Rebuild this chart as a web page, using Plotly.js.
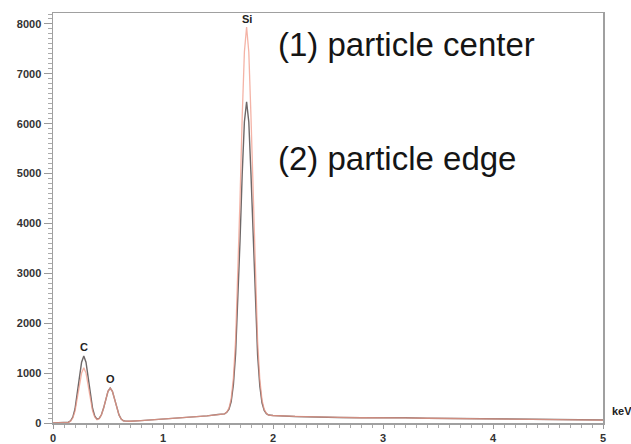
<!DOCTYPE html>
<html>
<head>
<meta charset="utf-8">
<script src="https://cdn.plot.ly/plotly-3.0.1.min.js"></script>
<style>html,body{margin:0;padding:0;background:#fff;}#chart{width:631px;height:444px;}</style>
</head>
<body>
<div id="chart"></div>
<script>
// Energy axis (keV)
const energy = [0, 0.10, 0.14, 0.16, 0.18, 0.20, 0.22, 0.24, 0.26, 0.28, 0.30, 0.32, 0.34, 0.36, 0.38, 0.40, 0.42, 0.44, 0.46, 0.48, 0.50, 0.52, 0.54, 0.56, 0.58, 0.60, 0.62, 0.64, 0.66, 0.70, 0.80, 0.90, 1.00, 1.10, 1.20, 1.30, 1.40, 1.50, 1.56, 1.58, 1.60, 1.62, 1.64, 1.66, 1.68, 1.70, 1.72, 1.74, 1.76, 1.78, 1.80, 1.82, 1.84, 1.86, 1.88, 1.90, 1.92, 1.94, 1.96, 2.00, 2.20, 2.40, 2.60, 2.80, 3.00, 3.20, 3.40, 3.60, 3.80, 4.00, 4.20, 4.40, 4.60, 4.80, 5.00];
// (2) particle edge counts (gray)
const edgeCounts = [0, 5, 16, 43, 119, 281, 556, 908, 1219, 1345, 1219, 913, 564, 291, 136, 77, 92, 165, 299, 478, 636, 700, 636, 478, 300, 162, 80, 45, 38, 36, 48, 62, 78, 92, 108, 124, 142, 170, 182, 214, 276, 430, 766, 1382, 2357, 3639, 4990, 6040, 6440, 6035, 4980, 3625, 2339, 1362, 744, 406, 251, 187, 160, 150, 130, 115, 110, 104, 108, 104, 96, 90, 85, 80, 76, 72, 68, 64, 60];
// (1) particle center counts (salmon)
const centerCounts = [0, 5, 14, 36, 99, 232, 457, 746, 1002, 1105, 1002, 749, 460, 239, 115, 65, 87, 162, 297, 476, 634, 698, 634, 476, 298, 160, 79, 44, 37, 35, 47, 61, 77, 91, 107, 123, 141, 169, 182, 221, 297, 488, 905, 1668, 2877, 4467, 6142, 7444, 7940, 7439, 6132, 4453, 2859, 1648, 883, 464, 272, 194, 158, 150, 131, 116, 111, 105, 109, 103, 95, 89, 84, 79, 75, 71, 67, 63, 59];
// Peak labels
const peakNames = ["C", "O", "Si"];
const peakEnergy = [0.28, 0.52, 1.76];
const peakLabelY = [1520, 880, 8090];
const seriesNames = ["(1) particle center", "(2) particle edge"];
const xTicks = [0, 1, 2, 3, 4, 5];
const yTicks = [0, 1000, 2000, 3000, 4000, 5000, 6000, 7000, 8000];

const traces = [
  {x: energy, y: edgeCounts, type: 'scatter', mode: 'lines', name: seriesNames[1],
   line: {color: '#6e6868', width: 1.4}, hoverinfo: 'x+y'},
  {x: energy, y: centerCounts, type: 'scatter', mode: 'lines', name: seriesNames[0],
   line: {color: '#f09a88', width: 1.3}, opacity: 0.75, hoverinfo: 'x+y'}
];

const annotations = peakNames.map((n, i) => ({
  x: peakEnergy[i], y: peakLabelY[i], xref: 'x', yref: 'y', text: n, showarrow: false,
  font: {family: 'Liberation Sans, Arial, sans-serif', size: 11, color: '#222', weight: 'bold'},
  xanchor: 'center', yanchor: 'middle'
}));
annotations.push({x: 0.405, y: 0.922, xref: 'paper', yref: 'paper', text: seriesNames[0], showarrow: false,
  xanchor: 'left', yanchor: 'middle', font: {family: 'Liberation Sans, Arial, sans-serif', size: 33, color: '#151515'}});
annotations.push({x: 0.405, y: 0.646, xref: 'paper', yref: 'paper', text: seriesNames[1], showarrow: false,
  xanchor: 'left', yanchor: 'middle', font: {family: 'Liberation Sans, Arial, sans-serif', size: 33, color: '#151515'}});
annotations.push({x: 1.012, y: 0.03, xref: 'paper', yref: 'paper', text: 'keV', showarrow: false,
  xanchor: 'left', yanchor: 'middle', font: {family: 'Liberation Sans, Arial, sans-serif', size: 11, color: '#222', weight: 'bold'}});

const tickFont = {family: 'Liberation Sans, Arial, sans-serif', size: 11, color: '#333', weight: 'bold'};

const layout = {
  width: 631, height: 444,
  margin: {l: 53, r: 28, t: 13, b: 21, pad: 0},
  paper_bgcolor: '#fff', plot_bgcolor: '#fff',
  showlegend: false,
  xaxis: {range: [0, 5], tickvals: xTicks, ticktext: xTicks.map(String), ticks: 'outside', ticklen: 4,
    tickcolor: '#999', tickwidth: 1, showline: true, linecolor: '#a0a0a0', linewidth: 1.5, mirror: true,
    showgrid: false, zeroline: false, tickfont: tickFont,
    minor: {dtick: 0.1, ticks: 'outside', ticklen: 3, tickcolor: '#aaa', showgrid: false}},
  yaxis: {range: [0, 8220], tickvals: yTicks, ticktext: yTicks.map(String), ticks: 'outside', ticklen: 8,
    tickcolor: '#999', tickwidth: 1, showline: true, linecolor: '#a0a0a0', linewidth: 1.5, mirror: true,
    showgrid: false, zeroline: false, tickfont: tickFont,
    minor: {dtick: 100, ticks: 'outside', ticklen: 4, tickcolor: '#aaa', showgrid: false}},
  annotations: annotations
};

Plotly.newPlot('chart', traces, layout, {displayModeBar: false, staticPlot: true});
</script>
</body>
</html>
